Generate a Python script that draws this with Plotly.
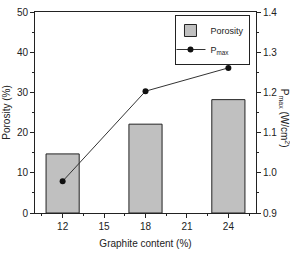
import plotly.graph_objects as go

graphite = [12, 18, 24]
porosity = [14.7, 22.1, 28.2]
pmax = [0.979, 1.203, 1.261]
x_ticks = [12, 15, 18, 21, 24]
y1_ticks = [0, 10, 20, 30, 40, 50]
y2_ticks = [0.9, 1.0, 1.1, 1.2, 1.3, 1.4]

font = dict(family="Liberation Sans, Arial, sans-serif", size=10, color="#222")

fig = go.Figure()
fig.add_trace(go.Bar(
    x=graphite, y=porosity, width=2.4, name="Porosity",
    marker=dict(color="#c0c0c0", line=dict(color="#222", width=1)),
    yaxis="y",
))
fig.add_trace(go.Scatter(
    x=graphite, y=pmax, name="P<sub>max</sub>", mode="lines+markers",
    line=dict(color="#333", width=1),
    marker=dict(color="#111", size=6),
    yaxis="y2",
))

axis_common = dict(showline=True, linecolor="#222", linewidth=1, ticks="outside",
                   ticklen=4, tickcolor="#222", showgrid=False, zeroline=False,
                   tickfont=font)

fig.update_layout(
    width=290, height=253,
    margin=dict(l=32, r=34, t=6, b=34),
    paper_bgcolor="white", plot_bgcolor="white",
    font=font,
    showlegend=True,
    legend=dict(x=0.975, y=0.985, xanchor="right", yanchor="top",
                bordercolor="#222", borderwidth=1, bgcolor="white",
                font=dict(family="Liberation Sans, Arial, sans-serif", size=9, color="#222"),
                tracegroupgap=0, itemwidth=30, indentation=-6),
    xaxis=dict(range=[10, 26], tickvals=x_ticks, mirror=True,
               minor=dict(ticks="outside", ticklen=2, dtick=1.5, tick0=0, tickcolor="#222"),
               title=dict(text="Graphite content (%)", standoff=8, font=font),
               **axis_common),
    yaxis=dict(range=[0, 50], tickvals=y1_ticks,
               minor=dict(ticks="outside", ticklen=2, dtick=5, tick0=0, tickcolor="#222"),
               title=dict(text="Porosity (%)", standoff=4, font=font),
               **axis_common),
    yaxis2=dict(range=[0.9, 1.4], tickvals=y2_ticks, overlaying="y", side="right",
                tickformat=".1f",
                minor=dict(ticks="outside", ticklen=2, dtick=0.05, tick0=0.9, tickcolor="#222"),
                **axis_common),
    annotations=[dict(
        text="P<sub>max</sub> (W/cm<sup>2</sup>)", textangle=90,
        xref="paper", yref="paper", x=1.13, y=0.47, xanchor="center", yanchor="middle",
        showarrow=False, font=font,
    )],
)

fig.write_html("out.html")
